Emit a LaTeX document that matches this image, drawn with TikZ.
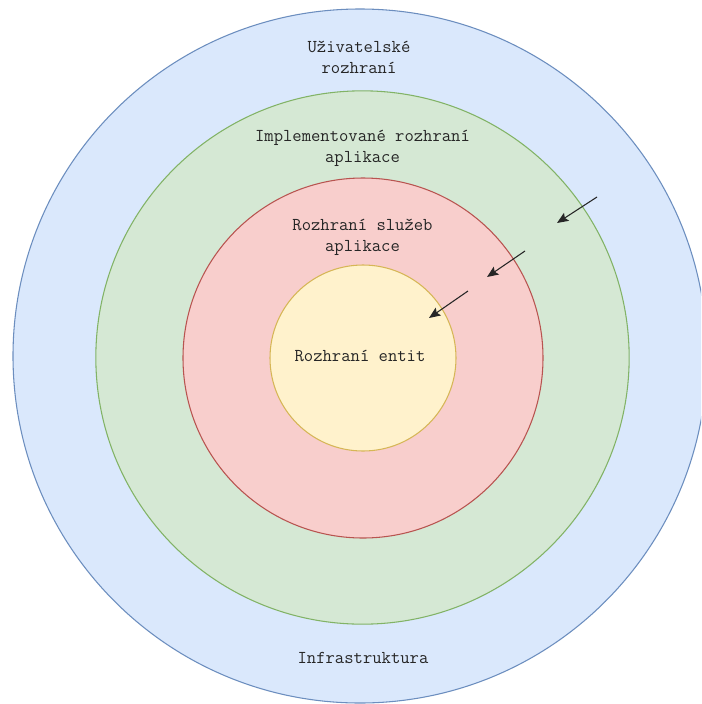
\documentclass[tikz,border=0pt]{standalone}
\usepackage{fontspec}
\usetikzlibrary{arrows.meta}
\definecolor{blueF}{HTML}{DAE8FC}\definecolor{blueS}{HTML}{6C8EBF}
\definecolor{greenF}{HTML}{D5E8D4}\definecolor{greenS}{HTML}{82B366}
\definecolor{redF}{HTML}{F8CECC}\definecolor{redS}{HTML}{B85450}
\definecolor{yelF}{HTML}{FFF2CC}\definecolor{yelS}{HTML}{D6B656}
\begin{document}
\begin{tikzpicture}[x=0.75pt,y=-0.75pt,
  ring/.style={circle, inner sep=0pt, line width=0.8pt},
  lbl/.style={font=\ttfamily\fontsize{13.6}{15.75}\selectfont, align=center, inner sep=0pt, text=black!85},
  arr/.style={-{Stealth[length=8.5pt,width=7pt,inset=1.5pt]}, line width=0.8pt, draw=black!85}]
\useasboundingbox (0,0) rectangle (701,704);
\fill[white] (0,0) rectangle (701,704);
\clip (0,0) rectangle (701,704);
\node[ring, draw=blueS, fill=blueF, minimum size=520.5pt] (outer) at (360,356) {};
\node[ring, draw=greenS, fill=greenF, minimum size=400pt] (green) at (362.5,357.5) {};
\node[ring, draw=redS, fill=redF, minimum size=270pt] (red) at (363,358) {};
\node[ring, draw=yelS, fill=yelF, minimum size=139.5pt] (yel) at (363,358) {};
\node[lbl] (t1) at (359,57.5) {Uživatelské\\rozhraní};
\node[lbl] (t2) at (362.5,148) {Implementované rozhraní\\aplikace};
\node[lbl] (t3) at (362.5,237) {Rozhraní služeb\\aplikace};
\node[lbl] (t4) at (360,356) {Rozhraní entit};
\node[lbl] (t5) at (363,658) {Infrastruktura};
\coordinate (a1s) at (597,197); \coordinate (a1e) at (557,223);
\coordinate (a2s) at (525,251); \coordinate (a2e) at (487,277);
\coordinate (a3s) at (468,291); \coordinate (a3e) at (429,318);
\draw[arr] (a1s) -- (a1e);
\draw[arr] (a2s) -- (a2e);
\draw[arr] (a3s) -- (a3e);
\end{tikzpicture}
\end{document}
